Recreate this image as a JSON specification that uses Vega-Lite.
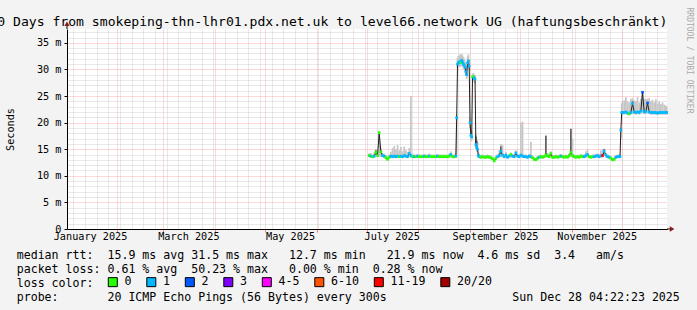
{
  "$schema": "https://vega.github.io/schema/vega-lite/v6.json",
  "width": 600,
  "height": 200,
  "autosize": {"type": "none"},
  "padding": {"left": 67, "top": 29, "right": 30, "bottom": 81},
  "background": "#f3f3f3",
  "title": {
    "text": "360 Days from smokeping-thn-lhr01.pdx.net.uk to level66.network UG (haftungsbeschränkt)",
    "anchor": "start", "frame": "group", "dx": -85.5, "dy": 36, "offset": 4,
    "font": "DejaVu Sans Mono", "fontSize": 13.1, "fontWeight": "normal", "color": "#000000", "baseline": "alphabetic"
  },
  "datasets": {
    "rtt": [
      {"t":"2025-07-02T12:00Z","m":13.8,"lo":13.5,"hi":14.2,"l":"0"},
      {"t":"2025-07-03T12:00Z","m":13.7,"lo":13.4,"hi":14.3,"l":"1"},
      {"t":"2025-07-04T12:00Z","m":13.6,"lo":13.3,"hi":14.0,"l":"0"},
      {"t":"2025-07-05T12:00Z","m":13.7,"lo":13.4,"hi":14.4,"l":"1"},
      {"t":"2025-07-06T12:00Z","m":14.4,"lo":13.6,"hi":15.0,"l":"0","hd":14.8},
      {"t":"2025-07-07T12:00Z","m":13.8,"lo":13.5,"hi":14.6,"l":"0"},
      {"t":"2025-07-08T12:00Z","m":18.1,"lo":13.6,"hi":18.4,"l":"0"},
      {"t":"2025-07-09T12:00Z","m":14.5,"lo":13.6,"hi":15.2,"l":"0"},
      {"t":"2025-07-10T12:00Z","m":13.8,"lo":13.5,"hi":14.3,"l":"1"},
      {"t":"2025-07-11T12:00Z","m":13.7,"lo":13.4,"hi":14.2,"l":"1"},
      {"t":"2025-07-12T12:00Z","m":13.4,"lo":13.1,"hi":13.9,"l":"0"},
      {"t":"2025-07-13T12:00Z","m":13.1,"lo":12.9,"hi":13.6,"l":"0"},
      {"t":"2025-07-14T12:00Z","m":13.5,"lo":13.2,"hi":14.0,"l":"0"},
      {"t":"2025-07-15T12:00Z","m":13.7,"lo":13.4,"hi":14.5,"l":"1"},
      {"t":"2025-07-16T12:00Z","m":13.6,"lo":13.3,"hi":15.2,"l":"1"},
      {"t":"2025-07-17T12:00Z","m":13.7,"lo":13.4,"hi":15.6,"l":"1"},
      {"t":"2025-07-18T12:00Z","m":13.6,"lo":13.3,"hi":15.0,"l":"1"},
      {"t":"2025-07-19T12:00Z","m":13.7,"lo":13.4,"hi":15.8,"l":"1"},
      {"t":"2025-07-20T12:00Z","m":13.6,"lo":13.3,"hi":14.8,"l":"0"},
      {"t":"2025-07-21T12:00Z","m":13.7,"lo":13.4,"hi":15.4,"l":"1"},
      {"t":"2025-07-22T12:00Z","m":13.6,"lo":13.3,"hi":14.6,"l":"1"},
      {"t":"2025-07-23T12:00Z","m":13.8,"lo":13.5,"hi":15.5,"l":"1"},
      {"t":"2025-07-24T12:00Z","m":13.7,"lo":13.4,"hi":14.8,"l":"1"},
      {"t":"2025-07-25T12:00Z","m":13.6,"lo":13.3,"hi":14.5,"l":"1"},
      {"t":"2025-07-26T12:00Z","m":14.2,"lo":13.6,"hi":15.2,"l":"1"},
      {"t":"2025-07-27T12:00Z","m":13.8,"lo":13.4,"hi":25.0,"l":"1"},
      {"t":"2025-07-28T12:00Z","m":13.6,"lo":13.3,"hi":14.2,"l":"0"},
      {"t":"2025-07-29T12:00Z","m":13.6,"lo":13.3,"hi":14.0,"l":"1"},
      {"t":"2025-07-30T12:00Z","m":13.6,"lo":13.3,"hi":14.0,"l":"0"},
      {"t":"2025-07-31T12:00Z","m":13.7,"lo":13.4,"hi":14.1,"l":"1"},
      {"t":"2025-08-01T12:00Z","m":13.6,"lo":13.3,"hi":14.0,"l":"0"},
      {"t":"2025-08-02T12:00Z","m":13.6,"lo":13.3,"hi":14.0,"l":"0"},
      {"t":"2025-08-03T12:00Z","m":13.6,"lo":13.3,"hi":14.0,"l":"0"},
      {"t":"2025-08-04T12:00Z","m":13.7,"lo":13.4,"hi":14.1,"l":"1"},
      {"t":"2025-08-05T12:00Z","m":13.6,"lo":13.3,"hi":14.0,"l":"0"},
      {"t":"2025-08-06T12:00Z","m":13.6,"lo":13.3,"hi":14.0,"l":"0"},
      {"t":"2025-08-07T12:00Z","m":13.7,"lo":13.4,"hi":14.2,"l":"1"},
      {"t":"2025-08-08T12:00Z","m":13.6,"lo":13.3,"hi":14.0,"l":"0"},
      {"t":"2025-08-09T12:00Z","m":13.6,"lo":13.3,"hi":14.0,"l":"0"},
      {"t":"2025-08-10T12:00Z","m":13.6,"lo":13.3,"hi":14.0,"l":"0"},
      {"t":"2025-08-11T12:00Z","m":13.6,"lo":13.3,"hi":14.0,"l":"0"},
      {"t":"2025-08-12T12:00Z","m":13.7,"lo":13.4,"hi":14.1,"l":"1"},
      {"t":"2025-08-13T12:00Z","m":13.6,"lo":13.3,"hi":14.0,"l":"0"},
      {"t":"2025-08-14T12:00Z","m":13.6,"lo":13.3,"hi":14.0,"l":"0"},
      {"t":"2025-08-15T12:00Z","m":13.6,"lo":13.3,"hi":14.0,"l":"0"},
      {"t":"2025-08-16T12:00Z","m":13.6,"lo":13.3,"hi":14.0,"l":"0"},
      {"t":"2025-08-17T12:00Z","m":13.6,"lo":13.3,"hi":14.0,"l":"0"},
      {"t":"2025-08-18T12:00Z","m":13.6,"lo":13.3,"hi":14.0,"l":"0"},
      {"t":"2025-08-19T12:00Z","m":13.7,"lo":13.4,"hi":14.2,"l":"0"},
      {"t":"2025-08-20T12:00Z","m":14.0,"lo":13.5,"hi":14.6,"l":"1"},
      {"t":"2025-08-21T12:00Z","m":13.6,"lo":13.3,"hi":14.0,"l":"0"},
      {"t":"2025-08-22T12:00Z","m":13.6,"lo":13.3,"hi":14.0,"l":"0"},
      {"t":"2025-08-23T12:00Z","m":13.7,"lo":13.4,"hi":14.2,"l":"1"},
      {"t":"2025-08-24T00:00Z","m":20.9,"lo":14.0,"hi":21.5,"l":"1"},
      {"t":"2025-08-24T12:00Z","m":31.0,"lo":30.2,"hi":32.2,"l":"1"},
      {"t":"2025-08-25T00:00Z","m":31.3,"lo":30.5,"hi":32.5,"l":"1"},
      {"t":"2025-08-25T12:00Z","m":31.2,"lo":30.4,"hi":32.6,"l":"1"},
      {"t":"2025-08-26T00:00Z","m":31.5,"lo":30.6,"hi":32.8,"l":"1"},
      {"t":"2025-08-26T12:00Z","m":31.3,"lo":30.5,"hi":32.5,"l":"0"},
      {"t":"2025-08-27T00:00Z","m":31.7,"lo":30.8,"hi":32.9,"l":"1"},
      {"t":"2025-08-27T12:00Z","m":31.4,"lo":30.6,"hi":32.6,"l":"1"},
      {"t":"2025-08-28T00:00Z","m":31.0,"lo":30.2,"hi":32.3,"l":"1"},
      {"t":"2025-08-28T12:00Z","m":30.8,"lo":30.0,"hi":32.0,"l":"1"},
      {"t":"2025-08-29T00:00Z","m":30.4,"lo":29.6,"hi":31.5,"l":"1"},
      {"t":"2025-08-29T12:00Z","m":29.6,"lo":28.8,"hi":30.8,"l":"1"},
      {"t":"2025-08-30T00:00Z","m":29.0,"lo":28.2,"hi":30.5,"l":"1"},
      {"t":"2025-08-30T12:00Z","m":31.2,"lo":30.4,"hi":32.4,"l":"1"},
      {"t":"2025-08-31T00:00Z","m":31.6,"lo":30.8,"hi":32.8,"l":"1"},
      {"t":"2025-08-31T12:00Z","m":30.6,"lo":29.8,"hi":31.8,"l":"1"},
      {"t":"2025-09-01T00:00Z","m":20.0,"lo":19.0,"hi":21.0,"l":"1"},
      {"t":"2025-09-01T12:00Z","m":17.6,"lo":16.8,"hi":18.6,"l":"1"},
      {"t":"2025-09-02T00:00Z","m":17.3,"lo":16.5,"hi":18.4,"l":"1"},
      {"t":"2025-09-02T12:00Z","m":28.6,"lo":27.8,"hi":29.2,"l":"0"},
      {"t":"2025-09-03T00:00Z","m":28.6,"lo":27.9,"hi":29.3,"l":"0"},
      {"t":"2025-09-03T12:00Z","m":28.4,"lo":27.6,"hi":29.0,"l":"1"},
      {"t":"2025-09-04T00:00Z","m":28.2,"lo":27.4,"hi":29.0,"l":"1"},
      {"t":"2025-09-04T12:00Z","m":15.9,"lo":15.0,"hi":17.8,"l":"1","hd":17.4},
      {"t":"2025-09-05T00:00Z","m":15.4,"lo":14.6,"hi":17.0,"l":"1","hd":16.6},
      {"t":"2025-09-05T12:00Z","m":15.0,"lo":14.4,"hi":16.3,"l":"1"},
      {"t":"2025-09-06T00:00Z","m":13.8,"lo":13.4,"hi":14.5,"l":"1"},
      {"t":"2025-09-06T12:00Z","m":13.6,"lo":13.3,"hi":14.1,"l":"1"},
      {"t":"2025-09-07T12:00Z","m":13.5,"lo":13.2,"hi":13.9,"l":"0"},
      {"t":"2025-09-08T12:00Z","m":13.6,"lo":13.3,"hi":14.0,"l":"0"},
      {"t":"2025-09-09T12:00Z","m":13.5,"lo":13.2,"hi":13.9,"l":"0"},
      {"t":"2025-09-10T12:00Z","m":13.5,"lo":13.2,"hi":13.9,"l":"0"},
      {"t":"2025-09-11T12:00Z","m":13.6,"lo":13.3,"hi":14.0,"l":"0"},
      {"t":"2025-09-12T12:00Z","m":13.5,"lo":13.2,"hi":13.9,"l":"0"},
      {"t":"2025-09-13T12:00Z","m":13.4,"lo":13.1,"hi":13.8,"l":"0"},
      {"t":"2025-09-14T12:00Z","m":13.2,"lo":12.9,"hi":13.6,"l":"0"},
      {"t":"2025-09-15T12:00Z","m":12.8,"lo":12.6,"hi":13.2,"l":"0"},
      {"t":"2025-09-16T12:00Z","m":13.3,"lo":13.0,"hi":13.8,"l":"0"},
      {"t":"2025-09-17T12:00Z","m":13.6,"lo":13.3,"hi":14.0,"l":"1"},
      {"t":"2025-09-18T12:00Z","m":13.8,"lo":13.4,"hi":14.8,"l":"1"},
      {"t":"2025-09-19T12:00Z","m":14.6,"lo":13.6,"hi":16.0,"l":"1","hd":15.5},
      {"t":"2025-09-20T12:00Z","m":13.9,"lo":13.5,"hi":15.8,"l":"1"},
      {"t":"2025-09-21T12:00Z","m":13.6,"lo":13.3,"hi":14.0,"l":"1"},
      {"t":"2025-09-22T12:00Z","m":13.9,"lo":13.5,"hi":14.5,"l":"1"},
      {"t":"2025-09-23T12:00Z","m":13.5,"lo":13.2,"hi":13.9,"l":"1"},
      {"t":"2025-09-24T12:00Z","m":13.7,"lo":13.4,"hi":14.1,"l":"1"},
      {"t":"2025-09-25T12:00Z","m":14.0,"lo":13.5,"hi":14.4,"l":"0"},
      {"t":"2025-09-26T12:00Z","m":13.7,"lo":13.4,"hi":14.1,"l":"1"},
      {"t":"2025-09-27T12:00Z","m":13.6,"lo":13.3,"hi":14.0,"l":"1"},
      {"t":"2025-09-28T12:00Z","m":14.3,"lo":13.6,"hi":14.8,"l":"1"},
      {"t":"2025-09-29T12:00Z","m":13.7,"lo":13.4,"hi":14.1,"l":"1"},
      {"t":"2025-09-30T12:00Z","m":13.6,"lo":13.3,"hi":14.0,"l":"1"},
      {"t":"2025-10-01T12:00Z","m":13.9,"lo":13.5,"hi":20.0,"l":"1"},
      {"t":"2025-10-02T12:00Z","m":13.7,"lo":13.4,"hi":20.2,"l":"1"},
      {"t":"2025-10-03T12:00Z","m":13.6,"lo":13.3,"hi":14.0,"l":"1"},
      {"t":"2025-10-04T12:00Z","m":13.6,"lo":13.3,"hi":14.0,"l":"1"},
      {"t":"2025-10-05T12:00Z","m":13.5,"lo":13.2,"hi":13.9,"l":"1"},
      {"t":"2025-10-06T12:00Z","m":13.7,"lo":13.4,"hi":14.1,"l":"1"},
      {"t":"2025-10-07T12:00Z","m":13.6,"lo":13.3,"hi":16.4,"l":"1"},
      {"t":"2025-10-08T12:00Z","m":13.4,"lo":13.1,"hi":13.8,"l":"0"},
      {"t":"2025-10-09T12:00Z","m":13.1,"lo":12.9,"hi":13.5,"l":"0"},
      {"t":"2025-10-10T12:00Z","m":13.0,"lo":12.8,"hi":13.4,"l":"0"},
      {"t":"2025-10-11T12:00Z","m":13.3,"lo":13.0,"hi":13.7,"l":"0"},
      {"t":"2025-10-12T12:00Z","m":13.5,"lo":13.2,"hi":13.9,"l":"1"},
      {"t":"2025-10-13T12:00Z","m":13.6,"lo":13.3,"hi":14.0,"l":"0"},
      {"t":"2025-10-14T12:00Z","m":13.5,"lo":13.2,"hi":13.9,"l":"0"},
      {"t":"2025-10-15T12:00Z","m":13.6,"lo":13.3,"hi":14.0,"l":"0"},
      {"t":"2025-10-16T12:00Z","m":13.9,"lo":13.5,"hi":17.7,"l":"0","hd":17.5},
      {"t":"2025-10-17T12:00Z","m":13.8,"lo":13.4,"hi":14.3,"l":"0"},
      {"t":"2025-10-18T12:00Z","m":13.6,"lo":13.3,"hi":14.0,"l":"0"},
      {"t":"2025-10-19T12:00Z","m":14.2,"lo":13.6,"hi":14.6,"l":"0"},
      {"t":"2025-10-20T12:00Z","m":13.5,"lo":13.2,"hi":13.9,"l":"0"},
      {"t":"2025-10-21T12:00Z","m":13.5,"lo":13.2,"hi":13.9,"l":"0"},
      {"t":"2025-10-22T12:00Z","m":13.6,"lo":13.3,"hi":14.0,"l":"0"},
      {"t":"2025-10-23T12:00Z","m":13.5,"lo":13.2,"hi":13.9,"l":"0"},
      {"t":"2025-10-24T12:00Z","m":13.6,"lo":13.3,"hi":14.0,"l":"0"},
      {"t":"2025-10-25T12:00Z","m":13.7,"lo":13.4,"hi":14.1,"l":"1"},
      {"t":"2025-10-26T12:00Z","m":13.6,"lo":13.3,"hi":14.0,"l":"0"},
      {"t":"2025-10-27T12:00Z","m":13.5,"lo":13.2,"hi":13.9,"l":"0"},
      {"t":"2025-10-28T12:00Z","m":13.6,"lo":13.3,"hi":14.0,"l":"0"},
      {"t":"2025-10-29T12:00Z","m":13.5,"lo":13.2,"hi":13.9,"l":"0"},
      {"t":"2025-10-30T12:00Z","m":13.8,"lo":13.4,"hi":14.2,"l":"0"},
      {"t":"2025-10-31T12:00Z","m":14.4,"lo":13.7,"hi":19.0,"l":"0","hd":18.8},
      {"t":"2025-11-01T12:00Z","m":13.8,"lo":13.4,"hi":17.0,"l":"0"},
      {"t":"2025-11-02T12:00Z","m":13.6,"lo":13.3,"hi":14.0,"l":"0"},
      {"t":"2025-11-03T12:00Z","m":13.5,"lo":13.2,"hi":13.9,"l":"0"},
      {"t":"2025-11-04T12:00Z","m":13.6,"lo":13.3,"hi":14.0,"l":"0"},
      {"t":"2025-11-05T12:00Z","m":13.5,"lo":13.2,"hi":13.9,"l":"0"},
      {"t":"2025-11-06T12:00Z","m":13.7,"lo":13.4,"hi":14.1,"l":"0"},
      {"t":"2025-11-07T12:00Z","m":13.6,"lo":13.3,"hi":14.0,"l":"0"},
      {"t":"2025-11-08T12:00Z","m":13.6,"lo":13.3,"hi":14.0,"l":"1"},
      {"t":"2025-11-09T12:00Z","m":13.8,"lo":13.4,"hi":14.6,"l":"1"},
      {"t":"2025-11-10T12:00Z","m":14.0,"lo":13.5,"hi":15.0,"l":"1"},
      {"t":"2025-11-11T12:00Z","m":13.6,"lo":13.3,"hi":14.0,"l":"0"},
      {"t":"2025-11-12T12:00Z","m":13.5,"lo":13.2,"hi":13.9,"l":"0"},
      {"t":"2025-11-13T12:00Z","m":13.6,"lo":13.3,"hi":14.0,"l":"0"},
      {"t":"2025-11-14T12:00Z","m":13.6,"lo":13.3,"hi":14.0,"l":"1"},
      {"t":"2025-11-15T12:00Z","m":13.7,"lo":13.4,"hi":14.1,"l":"1"},
      {"t":"2025-11-16T12:00Z","m":13.8,"lo":13.4,"hi":14.2,"l":"1"},
      {"t":"2025-11-17T12:00Z","m":13.6,"lo":13.3,"hi":14.0,"l":"1"},
      {"t":"2025-11-18T12:00Z","m":13.8,"lo":13.4,"hi":14.8,"l":"1"},
      {"t":"2025-11-19T12:00Z","m":13.8,"lo":13.4,"hi":15.0,"l":"11-19"},
      {"t":"2025-11-20T12:00Z","m":14.6,"lo":13.8,"hi":15.1,"l":"1","hd":15.0},
      {"t":"2025-11-21T12:00Z","m":13.9,"lo":13.5,"hi":14.3,"l":"1"},
      {"t":"2025-11-22T12:00Z","m":13.6,"lo":13.3,"hi":14.0,"l":"1"},
      {"t":"2025-11-23T12:00Z","m":13.5,"lo":13.2,"hi":13.9,"l":"1"},
      {"t":"2025-11-24T12:00Z","m":13.3,"lo":13.0,"hi":13.7,"l":"0"},
      {"t":"2025-11-25T12:00Z","m":13.0,"lo":12.8,"hi":13.4,"l":"0"},
      {"t":"2025-11-26T12:00Z","m":13.1,"lo":12.9,"hi":13.5,"l":"0"},
      {"t":"2025-11-27T12:00Z","m":13.5,"lo":13.2,"hi":13.9,"l":"1"},
      {"t":"2025-11-28T12:00Z","m":13.6,"lo":13.3,"hi":14.0,"l":"1"},
      {"t":"2025-11-29T12:00Z","m":13.6,"lo":13.3,"hi":14.0,"l":"1"},
      {"t":"2025-11-30T00:00Z","m":13.6,"lo":13.3,"hi":14.0,"l":"1"},
      {"t":"2025-11-30T12:00Z","m":18.6,"lo":17.0,"hi":19.0,"l":"1"},
      {"t":"2025-12-01T00:00Z","m":21.9,"lo":21.5,"hi":23.6,"l":"1"},
      {"t":"2025-12-01T12:00Z","m":21.9,"lo":21.5,"hi":24.0,"l":"1"},
      {"t":"2025-12-02T12:00Z","m":21.9,"lo":21.5,"hi":24.2,"l":"1"},
      {"t":"2025-12-03T12:00Z","m":22.0,"lo":21.6,"hi":24.8,"l":"1"},
      {"t":"2025-12-04T12:00Z","m":21.8,"lo":21.4,"hi":24.0,"l":"1"},
      {"t":"2025-12-05T12:00Z","m":21.7,"lo":21.3,"hi":23.8,"l":"0"},
      {"t":"2025-12-06T12:00Z","m":21.9,"lo":21.5,"hi":24.5,"l":"1"},
      {"t":"2025-12-07T12:00Z","m":23.6,"lo":21.6,"hi":24.6,"l":"1","hd":24.0},
      {"t":"2025-12-08T12:00Z","m":22.0,"lo":21.6,"hi":24.2,"l":"1"},
      {"t":"2025-12-09T12:00Z","m":21.9,"lo":21.5,"hi":24.0,"l":"1"},
      {"t":"2025-12-10T12:00Z","m":22.0,"lo":21.6,"hi":24.8,"l":"1"},
      {"t":"2025-12-11T12:00Z","m":21.9,"lo":21.5,"hi":23.8,"l":"1"},
      {"t":"2025-12-12T12:00Z","m":22.2,"lo":21.6,"hi":24.5,"l":"1"},
      {"t":"2025-12-13T12:00Z","m":25.7,"lo":21.8,"hi":26.0,"l":"2"},
      {"t":"2025-12-14T12:00Z","m":22.0,"lo":21.6,"hi":24.5,"l":"1"},
      {"t":"2025-12-15T12:00Z","m":22.1,"lo":21.6,"hi":24.4,"l":"1"},
      {"t":"2025-12-16T12:00Z","m":23.7,"lo":21.7,"hi":24.5,"l":"2"},
      {"t":"2025-12-17T12:00Z","m":22.0,"lo":21.6,"hi":24.6,"l":"1"},
      {"t":"2025-12-18T12:00Z","m":21.9,"lo":21.5,"hi":24.0,"l":"1"},
      {"t":"2025-12-19T12:00Z","m":21.9,"lo":21.5,"hi":24.3,"l":"1"},
      {"t":"2025-12-20T12:00Z","m":21.9,"lo":21.5,"hi":23.8,"l":"1"},
      {"t":"2025-12-21T12:00Z","m":21.9,"lo":21.5,"hi":24.4,"l":"1"},
      {"t":"2025-12-22T12:00Z","m":21.8,"lo":21.4,"hi":23.6,"l":"1"},
      {"t":"2025-12-23T12:00Z","m":21.9,"lo":21.5,"hi":24.0,"l":"1"},
      {"t":"2025-12-24T12:00Z","m":21.9,"lo":21.5,"hi":23.5,"l":"1"},
      {"t":"2025-12-25T12:00Z","m":21.9,"lo":21.5,"hi":23.8,"l":"1"},
      {"t":"2025-12-26T12:00Z","m":21.9,"lo":21.5,"hi":23.4,"l":"1"},
      {"t":"2025-12-27T12:00Z","m":21.9,"lo":21.5,"hi":23.2,"l":"1"},
      {"t":"2025-12-28T00:00Z","m":21.9,"lo":21.5,"hi":23.0,"l":"1"}
    ]
  },
  "layer": [
    {
      "data": {"name": "rtt"},
      "mark": {"type": "rule", "color": "#c6c6c6", "strokeWidth": 1.7},
      "encoding": {
        "x": {
          "field": "t", "type": "temporal",
          "scale": {"type": "utc", "domain": [{"year": 2025, "month": 1, "date": 2, "hours": 4, "minutes": 22, "seconds": 23, "utc": true}, {"year": 2025, "month": 12, "date": 28, "hours": 4, "minutes": 22, "seconds": 23, "utc": true}]},
          "axis": {
            "orient": "bottom", "title": null, "labels": false, "domain": false, "ticks": true, "tickSize": 3, "tickColor": "#ff0000", "tickOpacity": 0.5,
            "grid": true, "gridColor": "#ff0000", "gridOpacity": 0.3, "gridDash": [1, 1],
            "values": [
              {"year": 2025, "month": 2, "date": 1, "utc": true}, {"year": 2025, "month": 3, "date": 1, "utc": true},
              {"year": 2025, "month": 4, "date": 1, "utc": true}, {"year": 2025, "month": 5, "date": 1, "utc": true},
              {"year": 2025, "month": 6, "date": 1, "utc": true}, {"year": 2025, "month": 7, "date": 1, "utc": true},
              {"year": 2025, "month": 8, "date": 1, "utc": true}, {"year": 2025, "month": 9, "date": 1, "utc": true},
              {"year": 2025, "month": 10, "date": 1, "utc": true}, {"year": 2025, "month": 11, "date": 1, "utc": true},
              {"year": 2025, "month": 12, "date": 1, "utc": true}
            ]
          }
        },
        "y": {
          "field": "lo", "type": "quantitative",
          "scale": {"domain": [0, 37.6], "nice": false, "zero": true},
          "axis": {
            "orient": "left", "title": "Seconds", "titleX": -57, "titleAngle": -90, "titleBaseline": "middle", "titleAlign": "center",
            "values": [0, 5, 10, 15, 20, 25, 30, 35],
            "labelExpr": "datum.value == 0 ? '0\u00a0\u00a0' : datum.value + '\u00a0m'",
            "labelPadding": 3, "tickSize": 3, "domain": true, "domainColor": "#000000",
            "grid": true, "gridColor": "#ff0000", "gridOpacity": 0.3, "gridDash": [1, 1]
          }
        },
        "y2": {"field": "hi"}
      }
    },
    {
      "data": {"name": "rtt"},
      "transform": [{"filter": "isValid(datum.hd)"}],
      "mark": {"type": "rule", "color": "#555555", "strokeWidth": 1.5},
      "encoding": {
        "x": {
          "field": "t", "type": "temporal",
          "axis": {
            "orient": "bottom", "title": null, "labels": false, "domain": false, "ticks": false,
            "grid": true, "gridColor": "#c8c8c8", "gridOpacity": 0.8, "gridDash": [1, 1],
            "values": [
              {"year": 2025, "month": 1, "date": 6, "utc": true}, {"year": 2025, "month": 1, "date": 13, "utc": true}, {"year": 2025, "month": 1, "date": 20, "utc": true}, {"year": 2025, "month": 1, "date": 27, "utc": true},
              {"year": 2025, "month": 2, "date": 3, "utc": true}, {"year": 2025, "month": 2, "date": 10, "utc": true}, {"year": 2025, "month": 2, "date": 17, "utc": true}, {"year": 2025, "month": 2, "date": 24, "utc": true},
              {"year": 2025, "month": 3, "date": 3, "utc": true}, {"year": 2025, "month": 3, "date": 10, "utc": true}, {"year": 2025, "month": 3, "date": 17, "utc": true}, {"year": 2025, "month": 3, "date": 24, "utc": true}, {"year": 2025, "month": 3, "date": 31, "utc": true},
              {"year": 2025, "month": 4, "date": 7, "utc": true}, {"year": 2025, "month": 4, "date": 14, "utc": true}, {"year": 2025, "month": 4, "date": 21, "utc": true}, {"year": 2025, "month": 4, "date": 28, "utc": true},
              {"year": 2025, "month": 5, "date": 5, "utc": true}, {"year": 2025, "month": 5, "date": 12, "utc": true}, {"year": 2025, "month": 5, "date": 19, "utc": true}, {"year": 2025, "month": 5, "date": 26, "utc": true},
              {"year": 2025, "month": 6, "date": 2, "utc": true}, {"year": 2025, "month": 6, "date": 9, "utc": true}, {"year": 2025, "month": 6, "date": 16, "utc": true}, {"year": 2025, "month": 6, "date": 23, "utc": true}, {"year": 2025, "month": 6, "date": 30, "utc": true},
              {"year": 2025, "month": 7, "date": 7, "utc": true}, {"year": 2025, "month": 7, "date": 14, "utc": true}, {"year": 2025, "month": 7, "date": 21, "utc": true}, {"year": 2025, "month": 7, "date": 28, "utc": true},
              {"year": 2025, "month": 8, "date": 4, "utc": true}, {"year": 2025, "month": 8, "date": 11, "utc": true}, {"year": 2025, "month": 8, "date": 18, "utc": true}, {"year": 2025, "month": 8, "date": 25, "utc": true},
              {"year": 2025, "month": 9, "date": 1, "utc": true}, {"year": 2025, "month": 9, "date": 8, "utc": true}, {"year": 2025, "month": 9, "date": 15, "utc": true}, {"year": 2025, "month": 9, "date": 22, "utc": true}, {"year": 2025, "month": 9, "date": 29, "utc": true},
              {"year": 2025, "month": 10, "date": 6, "utc": true}, {"year": 2025, "month": 10, "date": 13, "utc": true}, {"year": 2025, "month": 10, "date": 20, "utc": true}, {"year": 2025, "month": 10, "date": 27, "utc": true},
              {"year": 2025, "month": 11, "date": 3, "utc": true}, {"year": 2025, "month": 11, "date": 10, "utc": true}, {"year": 2025, "month": 11, "date": 17, "utc": true}, {"year": 2025, "month": 11, "date": 24, "utc": true},
              {"year": 2025, "month": 12, "date": 1, "utc": true}, {"year": 2025, "month": 12, "date": 8, "utc": true}, {"year": 2025, "month": 12, "date": 15, "utc": true}, {"year": 2025, "month": 12, "date": 22, "utc": true}
            ]
          }
        },
        "y": {
          "field": "m", "type": "quantitative",
          "axis": {
            "orient": "left", "title": null, "labels": false, "domain": false, "ticks": false,
            "grid": true, "gridColor": "#c8c8c8", "gridOpacity": 0.8, "gridDash": [1, 1],
            "values": [1, 2, 3, 4, 6, 7, 8, 9, 11, 12, 13, 14, 16, 17, 18, 19, 21, 22, 23, 24, 26, 27, 28, 29, 31, 32, 33, 34, 36, 37]
          }
        },
        "y2": {"field": "hd"}
      }
    },
    {
      "data": {"name": "rtt"},
      "mark": {"type": "line", "color": "#1e1e1e", "strokeWidth": 1},
      "encoding": {
        "x": {
          "field": "t", "type": "temporal",
          "axis": {
            "orient": "bottom",
            "title": [
              "median\u00a0rtt:\u00a0\u00a015.9\u00a0ms\u00a0avg\u00a031.5\u00a0ms\u00a0max\u00a0\u00a0\u00a012.7\u00a0ms\u00a0min\u00a0\u00a0\u00a021.9\u00a0ms\u00a0now\u00a0\u00a04.6\u00a0ms\u00a0sd\u00a0\u00a03.4\u00a0\u00a0\u00a0am/s",
              "packet\u00a0loss:\u00a00.61\u00a0%\u00a0avg\u00a0\u00a050.23\u00a0%\u00a0max\u00a0\u00a0\u00a00.00\u00a0%\u00a0min\u00a0\u00a00.28\u00a0%\u00a0now",
              "loss\u00a0color:",
              "probe:\u00a0\u00a0\u00a0\u00a0\u00a0\u00a0\u00a020\u00a0ICMP\u00a0Echo\u00a0Pings\u00a0(56\u00a0Bytes)\u00a0every\u00a0300s\u00a0\u00a0\u00a0\u00a0\u00a0\u00a0\u00a0\u00a0\u00a0\u00a0\u00a0\u00a0\u00a0\u00a0\u00a0\u00a0\u00a0\u00a0Sun\u00a0Dec\u00a028\u00a004:22:23\u00a02025"
            ],
            "titleX": -50.8, "titleY": 29.5, "titleAlign": "left", "titleAnchor": null, "titleBaseline": "alphabetic",
            "titleFontSize": 11.6, "titleLineHeight": 14,
            "values": [
              {"year": 2025, "month": 1, "date": 16, "utc": true}, {"year": 2025, "month": 3, "date": 16, "utc": true},
              {"year": 2025, "month": 5, "date": 16, "utc": true}, {"year": 2025, "month": 7, "date": 16, "utc": true},
              {"year": 2025, "month": 9, "date": 16, "utc": true}, {"year": 2025, "month": 11, "date": 16, "utc": true}
            ],
            "format": "%B %Y", "labelFlush": false, "labelOverlap": false, "labelPadding": 2,
            "grid": false, "ticks": false, "tickSize": 0, "domain": true, "domainColor": "#000000"
          }
        },
        "y": {
          "field": "m", "type": "quantitative",
          "axis": {
            "orient": "right", "title": "RRDTOOL / TOBI OETIKER", "labels": false, "ticks": false, "grid": false, "domain": false,
            "titleColor": "#aaaaaa", "titleFontSize": 8, "titleAngle": 90, "titleX": 21, "titleY": -22, "titleAlign": "left", "titleBaseline": "middle"
          }
        }
      }
    },
    {
      "data": {"name": "rtt"},
      "mark": {"type": "point", "shape": "square", "filled": true, "size": 7, "opacity": 1},
      "encoding": {
        "x": {"field": "t", "type": "temporal", "axis": null},
        "y": {"field": "m", "type": "quantitative", "axis": null},
        "color": {
          "field": "l", "type": "nominal",
          "scale": {"domain": ["0", "1", "2", "3", "4-5", "6-10", "11-19", "20/20"], "range": ["#26ff00", "#00b8ff", "#0059ff", "#7e00ff", "#ff00ff", "#ff5500", "#ff0000", "#a10000"]},
          "legend": {
            "orient": "none", "legendX": 40, "legendY": 247, "direction": "horizontal", "columns": 8, "title": null,
            "symbolType": "square", "symbolSize": 81, "symbolStrokeColor": "#000000", "symbolStrokeWidth": 1, "symbolOpacity": 1,
            "labelFont": "DejaVu Sans Mono", "labelFontSize": 11.6, "labelColor": "#000000", "labelOffset": 6, "columnPadding": 12.5, "padding": 0
          }
        }
      }
    },
    {
      "data": {"values": [{"a": "2025-12-28T04:22:23Z", "b": "2025-12-31T00:00:00Z", "v": 0}]},
      "mark": {"type": "rule", "color": "#000000", "strokeWidth": 1, "clip": false},
      "encoding": {
        "x": {"field": "a", "type": "temporal", "axis": null},
        "x2": {"field": "b"},
        "y": {"field": "v", "type": "quantitative", "axis": null}
      }
    },
    {
      "data": {"values": [{"a": "2025-01-02T04:22:23Z", "v": 37.6, "w": 38.4}]},
      "mark": {"type": "rule", "color": "#000000", "strokeWidth": 1, "clip": false},
      "encoding": {
        "x": {"field": "a", "type": "temporal", "axis": null},
        "y": {"field": "v", "type": "quantitative", "axis": null},
        "y2": {"field": "w"}
      }
    },
    {
      "data": {"values": [{"a": "2025-12-31T06:00:00Z", "v": 0, "s": "triangle-right"}, {"a": "2025-01-02T04:22:23Z", "v": 38.6, "s": "triangle-up"}]},
      "mark": {"type": "point", "filled": true, "size": 28, "color": "#8b1a1a", "opacity": 1, "clip": false},
      "encoding": {
        "x": {"field": "a", "type": "temporal", "axis": null},
        "y": {"field": "v", "type": "quantitative", "axis": null},
        "shape": {"field": "s", "type": "nominal", "scale": null, "legend": null}
      }
    }
  ],
  "resolve": {"axis": {"x": "independent", "y": "independent"}},
  "config": {
    "font": "DejaVu Sans Mono",
    "view": {"fill": "#ffffff", "stroke": null},
    "axis": {
      "labelFont": "DejaVu Sans Mono", "labelFontSize": 10.2, "labelColor": "#000000",
      "titleFont": "DejaVu Sans Mono", "titleFontSize": 10.2, "titleFontWeight": "normal", "titleColor": "#000000",
      "domainColor": "#000000", "tickColor": "#000000"
    }
  }
}
